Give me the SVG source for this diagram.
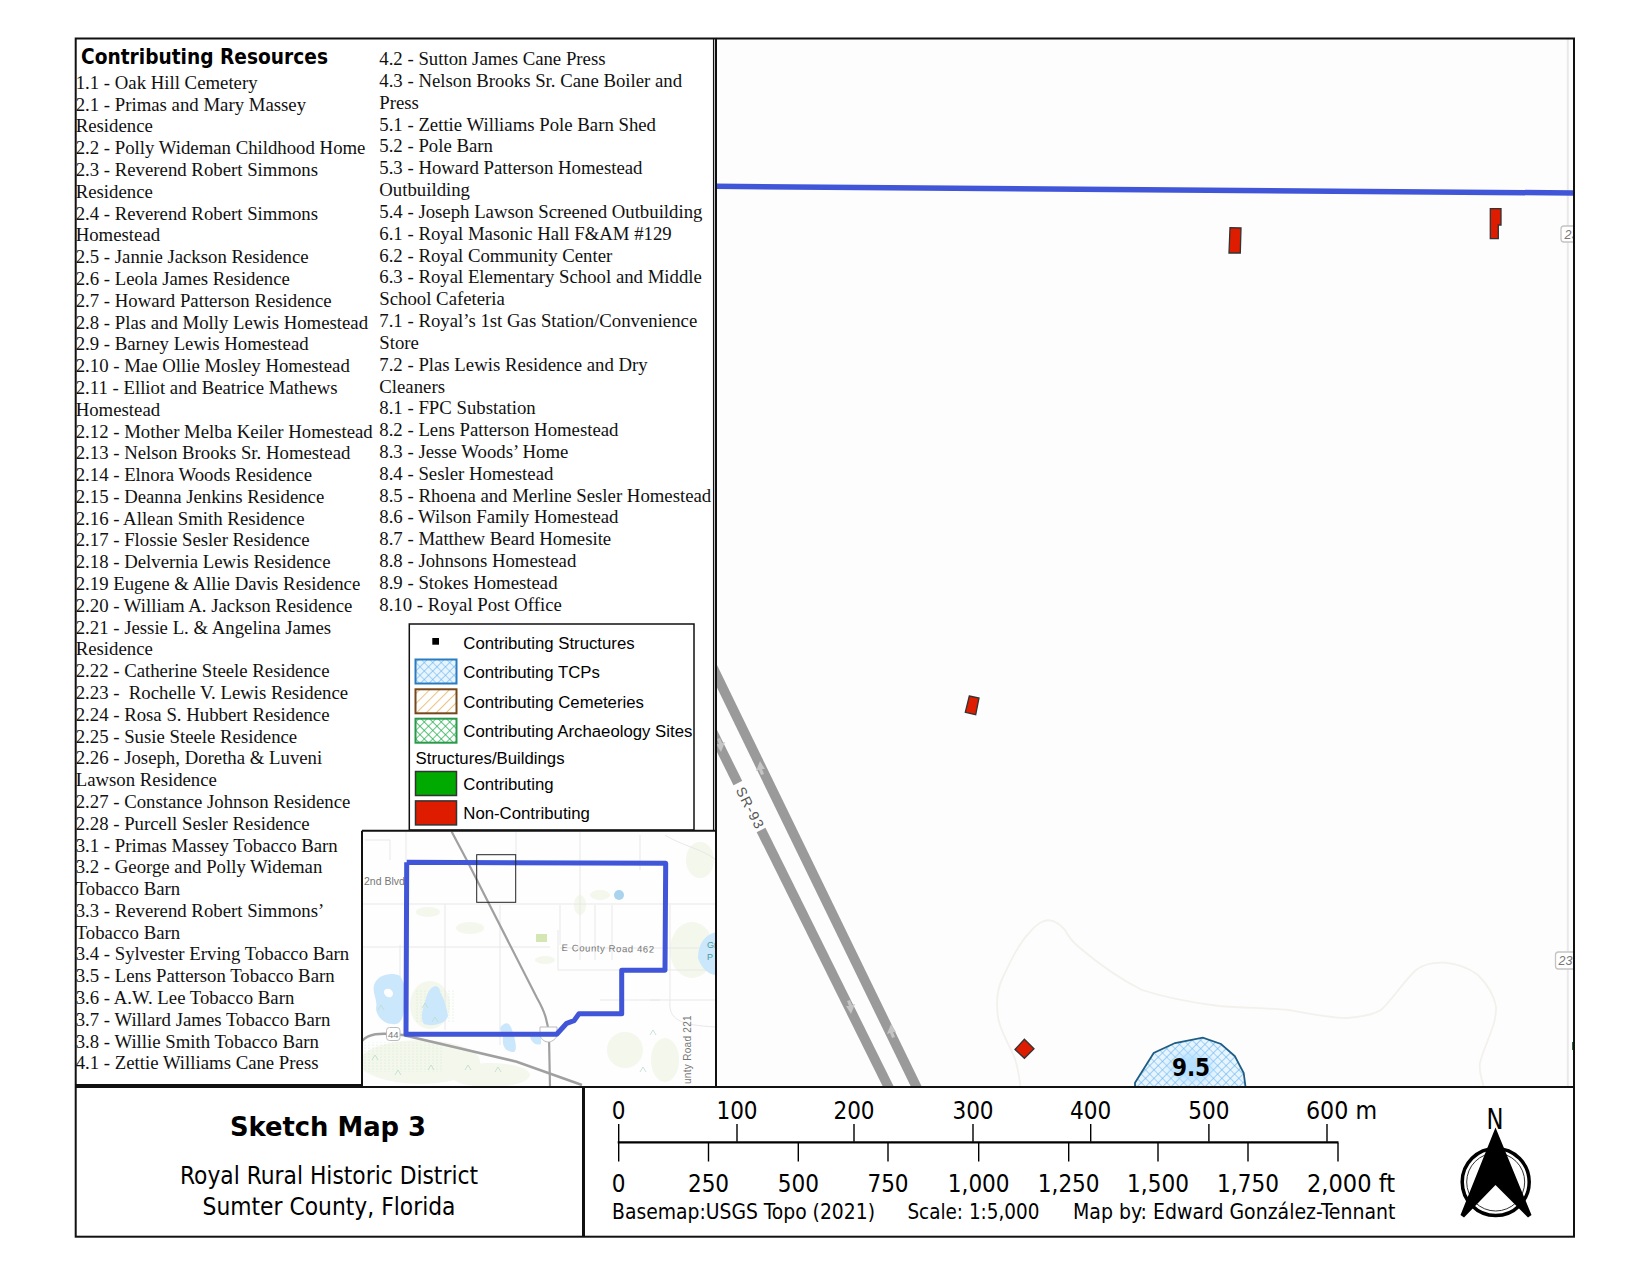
<svg xmlns="http://www.w3.org/2000/svg" width="1650" height="1275" viewBox="0 0 1650 1275">
<style>
.list{font-family:"Liberation Serif","Times New Roman",serif;font-size:18.78px;fill:#111}
.leg{font-family:"Liberation Sans",Arial,sans-serif;font-size:16.75px;fill:#000}
.tah{font-family:"DejaVu Sans Condensed","DejaVu Sans",sans-serif;fill:#000}
.sc{font-size:24px;text-anchor:middle}
.cap{font-size:21px}
.tick{stroke:#000;stroke-width:1.4}
.frame{fill:none;stroke:#111;stroke-width:2}
.bldg{fill:#dd1c00;stroke:#333;stroke-width:1.3}
.lr{fill:none;stroke:#e8e8e8;stroke-width:1}
.wat{fill:#cbe7fb}
.veg{fill:#f3f7ec}
.ink{font-family:"Liberation Sans",Arial,sans-serif;fill:#777}
.marsh{fill:none;stroke:#bcdccb;stroke-width:.8}
</style>
<defs>
<pattern id="hBlue" width="6" height="6" patternUnits="userSpaceOnUse" patternTransform="rotate(45)"><rect width="6" height="6" fill="#e8f5ff"/><path d="M0 0H6M0 0V6" stroke="#5fb0ee" stroke-width="1.200"/></pattern>
<pattern id="hOrange" width="7" height="7" patternUnits="userSpaceOnUse" patternTransform="rotate(-45)"><rect width="7" height="7" fill="#fff"/><path d="M0 0H7" stroke="#e09a28" stroke-width="1.200"/></pattern>
<pattern id="hGreen" width="6" height="6" patternUnits="userSpaceOnUse" patternTransform="rotate(45)"><rect width="6" height="6" fill="#fff"/><path d="M0 0H6M0 0V6" stroke="#18ad45" stroke-width="1.300"/></pattern>
<pattern id="dots" width="4" height="3" patternUnits="userSpaceOnUse"><circle cx="1" cy="1" r=".6" fill="#d3e6d0"/></pattern>
<filter id="blur" x="-40%" y="-40%" width="180%" height="180%"><feGaussianBlur stdDeviation="5"/></filter>
<clipPath id="mapClip"><rect x="716" y="39" width="858" height="1048"/></clipPath>
<clipPath id="insetClip"><rect x="362" y="830" width="354" height="257"/></clipPath>
</defs>
<rect width="1650" height="1275" fill="#fff"/>

<g id="main-map" clip-path="url(#mapClip)">
<rect x="716" y="39" width="858" height="1048" fill="#fdfdfd"/>
<path d="M1567.800 39V1087" stroke="#e9e9e9" stroke-width="2" fill="none"/>
<path d="M1020.500 1087C1019 1075 1017 1065 1014.700 1058C1007 1040 997 1025 997.400 1010C996 995 999 985 1003 977C1012 958 1020 942 1030 932C1038 922 1046 919 1051.400 920.700C1058 922 1062 927 1065 930C1070 940 1075 944 1080 948C1100 965 1122 980 1142 990C1170 999 1195 1003 1219 1006C1245 1008 1268 1008 1289 1010C1310 1014 1330 1018 1347 1018C1362 1017 1374 1014 1381 1010C1392 1000 1404 981 1416 970C1425 963 1435 962 1445 962.700C1458 964 1470 969 1478 975C1488 985 1494 995 1496 1006.700C1497 1025 1484 1045 1480 1063C1479 1070 1481 1078 1484 1087" fill="none" stroke="#f2f1ec" stroke-width="1.800"/>
<g id="sr93">
<path d="M712 666L918 1090" stroke="#9a9a9a" stroke-width="9.800" fill="none"/>
<path d="M712 731L890 1090" stroke="#9a9a9a" stroke-width="9.800" fill="none"/>
<path d="M738 783L761 830" stroke="#fdfdfd" stroke-width="12" fill="none"/>
<text transform="translate(735.500,790) rotate(63)" class="ink" font-size="14" font-weight="400" style="letter-spacing:1.200px;fill:#555">SR-93</text>
<g fill="#c4c4c4">
<path d="M760 761l5 8-3 0 2 5-3 1-2-5-3 1z"/>
<path d="M891 1024l5 8-3 0 2 5-3 1-2-5-3 1z"/>
<path d="M721 752l-5-8 3 0-2-5 3-1 2 5 3-1z"/>
<path d="M851 1014l-5-8 3 0-2-5 3-1 2 5 3-1z"/>
</g>
</g>
<path d="M716 186.300L1574 193" stroke="#4055d8" stroke-width="5.500" fill="none"/>
<g id="shields" fill="#fff" stroke="#c4c4c4" stroke-width="1.300">
<rect x="1561" y="226" width="22" height="16" rx="3"/>
<rect x="1555.500" y="952" width="30" height="17" rx="3"/>
</g>
<g class="ink" font-size="12.500" font-style="italic">
<text x="1564.500" y="238.500">23</text>
<text x="1558.500" y="965">237</text>
</g>
<rect x="1572" y="1042" width="3" height="8" fill="#2f6b3a"/>
<polygon id="tcp-9-5" points="1135,1087.500 1135,1082.700 1153.700,1053 1175,1043 1202.800,1037.700 1221,1044 1234.800,1056 1243.700,1073 1245.600,1087.500" fill="url(#hBlue)" stroke="#1f5d85" stroke-width="1.800"/>
<ellipse cx="1191" cy="1067" rx="21" ry="14" fill="#b5e0ff" filter="url(#blur)"/>
<text class="tah" x="1191" y="1075.500" text-anchor="middle" font-weight="700" font-size="24">9.5</text>
</g>

<g id="buildings">
<polygon class="bldg" points="1230,227.700 1241,228 1240.300,253 1229,253"/>
<polygon class="bldg" points="1490.300,208.700 1501,208.700 1501,225 1498.300,225 1498.300,238.700 1490.300,238.700"/>
<polygon class="bldg" points="969.300,696 979,698 975.700,714.700 965.300,712.300"/>
<polygon class="bldg" points="1024.400,1039.300 1034,1048.800 1024.400,1058.300 1015,1049.500"/>
</g>

<g id="resource-list">
<text class="tah" x="81" y="64" font-weight="700" font-size="21" textLength="247" lengthAdjust="spacingAndGlyphs">Contributing Resources</text>
<text class="list" y="88.900">
<tspan x="75.700">1.1 - Oak Hill Cemetery</tspan>
<tspan x="75.700" dy="21.790">2.1 - Primas and Mary Massey</tspan>
<tspan x="75.700" dy="21.790">Residence</tspan>
<tspan x="75.700" dy="21.790">2.2 - Polly Wideman Childhood Home</tspan>
<tspan x="75.700" dy="21.790">2.3 - Reverend Robert Simmons</tspan>
<tspan x="75.700" dy="21.790">Residence</tspan>
<tspan x="75.700" dy="21.790">2.4 - Reverend Robert Simmons</tspan>
<tspan x="75.700" dy="21.790">Homestead</tspan>
<tspan x="75.700" dy="21.790">2.5 - Jannie Jackson Residence</tspan>
<tspan x="75.700" dy="21.790">2.6 - Leola James Residence</tspan>
<tspan x="75.700" dy="21.790">2.7 - Howard Patterson Residence</tspan>
<tspan x="75.700" dy="21.790">2.8 - Plas and Molly Lewis Homestead</tspan>
<tspan x="75.700" dy="21.790">2.9 - Barney Lewis Homestead</tspan>
<tspan x="75.700" dy="21.790">2.10 - Mae Ollie Mosley Homestead</tspan>
<tspan x="75.700" dy="21.790">2.11 - Elliot and Beatrice Mathews</tspan>
<tspan x="75.700" dy="21.790">Homestead</tspan>
<tspan x="75.700" dy="21.790">2.12 - Mother Melba Keiler Homestead</tspan>
<tspan x="75.700" dy="21.790">2.13 - Nelson Brooks Sr. Homestead</tspan>
<tspan x="75.700" dy="21.790">2.14 - Elnora Woods Residence</tspan>
<tspan x="75.700" dy="21.790">2.15 - Deanna Jenkins Residence</tspan>
<tspan x="75.700" dy="21.790">2.16 - Allean Smith Residence</tspan>
<tspan x="75.700" dy="21.790">2.17 - Flossie Sesler Residence</tspan>
<tspan x="75.700" dy="21.790">2.18 - Delvernia Lewis Residence</tspan>
<tspan x="75.700" dy="21.790">2.19 Eugene &amp; Allie Davis Residence</tspan>
<tspan x="75.700" dy="21.790">2.20 - William A. Jackson Residence</tspan>
<tspan x="75.700" dy="21.790">2.21 - Jessie L. &amp; Angelina James</tspan>
<tspan x="75.700" dy="21.790">Residence</tspan>
<tspan x="75.700" dy="21.790">2.22 - Catherine Steele Residence</tspan>
<tspan x="75.700" dy="21.790" xml:space="preserve">2.23 -  Rochelle V. Lewis Residence</tspan>
<tspan x="75.700" dy="21.790">2.24 - Rosa S. Hubbert Residence</tspan>
<tspan x="75.700" dy="21.790">2.25 - Susie Steele Residence</tspan>
<tspan x="75.700" dy="21.790">2.26 - Joseph, Doretha &amp; Luveni</tspan>
<tspan x="75.700" dy="21.790">Lawson Residence</tspan>
<tspan x="75.700" dy="21.790">2.27 - Constance Johnson Residence</tspan>
<tspan x="75.700" dy="21.790">2.28 - Purcell Sesler Residence</tspan>
<tspan x="75.700" dy="21.790">3.1 - Primas Massey Tobacco Barn</tspan>
<tspan x="75.700" dy="21.790">3.2 - George and Polly Wideman</tspan>
<tspan x="75.700" dy="21.790">Tobacco Barn</tspan>
<tspan x="75.700" dy="21.790">3.3 - Reverend Robert Simmons’</tspan>
<tspan x="75.700" dy="21.790">Tobacco Barn</tspan>
<tspan x="75.700" dy="21.790">3.4 - Sylvester Erving Tobacco Barn</tspan>
<tspan x="75.700" dy="21.790">3.5 - Lens Patterson Tobacco Barn</tspan>
<tspan x="75.700" dy="21.790">3.6 - A.W. Lee Tobacco Barn</tspan>
<tspan x="75.700" dy="21.790">3.7 - Willard James Tobacco Barn</tspan>
<tspan x="75.700" dy="21.790">3.8 - Willie Smith Tobacco Barn</tspan>
<tspan x="75.700" dy="21.790">4.1 - Zettie Williams Cane Press</tspan>
</text>
<text class="list" y="65.200">
<tspan x="379.300">4.2 - Sutton James Cane Press</tspan>
<tspan x="379.300" dy="21.820">4.3 - Nelson Brooks Sr. Cane Boiler and</tspan>
<tspan x="379.300" dy="21.820">Press</tspan>
<tspan x="379.300" dy="21.820">5.1 - Zettie Williams Pole Barn Shed</tspan>
<tspan x="379.300" dy="21.820">5.2 - Pole Barn</tspan>
<tspan x="379.300" dy="21.820">5.3 - Howard Patterson Homestead</tspan>
<tspan x="379.300" dy="21.820">Outbuilding</tspan>
<tspan x="379.300" dy="21.820">5.4 - Joseph Lawson Screened Outbuilding</tspan>
<tspan x="379.300" dy="21.820">6.1 - Royal Masonic Hall F&amp;AM #129</tspan>
<tspan x="379.300" dy="21.820">6.2 - Royal Community Center</tspan>
<tspan x="379.300" dy="21.820">6.3 - Royal Elementary School and Middle</tspan>
<tspan x="379.300" dy="21.820">School Cafeteria</tspan>
<tspan x="379.300" dy="21.820">7.1 - Royal’s 1st Gas Station/Convenience</tspan>
<tspan x="379.300" dy="21.820">Store</tspan>
<tspan x="379.300" dy="21.820">7.2 - Plas Lewis Residence and Dry</tspan>
<tspan x="379.300" dy="21.820">Cleaners</tspan>
<tspan x="379.300" dy="21.820">8.1 - FPC Substation</tspan>
<tspan x="379.300" dy="21.820">8.2 - Lens Patterson Homestead</tspan>
<tspan x="379.300" dy="21.820">8.3 - Jesse Woods’ Home</tspan>
<tspan x="379.300" dy="21.820">8.4 - Sesler Homestead</tspan>
<tspan x="379.300" dy="21.820">8.5 - Rhoena and Merline Sesler Homestead</tspan>
<tspan x="379.300" dy="21.820">8.6 - Wilson Family Homestead</tspan>
<tspan x="379.300" dy="21.820">8.7 - Matthew Beard Homesite</tspan>
<tspan x="379.300" dy="21.820">8.8 - Johnsons Homestead</tspan>
<tspan x="379.300" dy="21.820">8.9 - Stokes Homestead</tspan>
<tspan x="379.300" dy="21.820">8.10 - Royal Post Office</tspan>
</text>
</g>

<g id="legend">
<rect x="409.300" y="624" width="284.700" height="206" fill="#fff" stroke="#111" stroke-width="1.500"/>
<rect x="432.300" y="638" width="6.700" height="6.700" fill="#000"/>
<rect x="415.500" y="659.500" width="41" height="24" fill="url(#hBlue)" stroke="#2a7cc0" stroke-width="2"/>
<rect x="415.500" y="689.300" width="41" height="24" fill="url(#hOrange)" stroke="#75481c" stroke-width="2"/>
<rect x="415.500" y="718.700" width="41" height="24" fill="url(#hGreen)" stroke="#2a9a4a" stroke-width="2"/>
<rect x="415.500" y="771.500" width="41" height="24" fill="#00aa00" stroke="#333" stroke-width="1.500"/>
<rect x="415.500" y="800.900" width="41" height="24" fill="#dd1c00" stroke="#333" stroke-width="1.500"/>
<text class="leg" x="463.300" y="649">Contributing Structures</text>
<text class="leg" x="463.300" y="678">Contributing TCPs</text>
<text class="leg" x="463.300" y="708">Contributing Cemeteries</text>
<text class="leg" x="463.300" y="737">Contributing Archaeology Sites</text>
<text class="leg" x="415.600" y="764">Structures/Buildings</text>
<text class="leg" x="463.300" y="790">Contributing</text>
<text class="leg" x="463.300" y="819">Non-Contributing</text>
</g>

<g id="inset-map" clip-path="url(#insetClip)">
<rect x="362" y="830" width="354" height="257" fill="#fefefe"/>
<g class="veg">
<ellipse cx="428" cy="912" rx="12" ry="5"/><ellipse cx="580" cy="905" rx="6" ry="10"/><ellipse cx="600" cy="895" rx="10" ry="5"/><ellipse cx="700" cy="860" rx="14" ry="18"/><ellipse cx="692" cy="950" rx="22" ry="28"/><ellipse cx="470" cy="928" rx="14" ry="6"/><ellipse cx="545" cy="960" rx="10" ry="4"/><ellipse cx="420" cy="1062" rx="60" ry="22"/><ellipse cx="490" cy="1075" rx="40" ry="12"/><ellipse cx="625" cy="1050" rx="18" ry="18"/><ellipse cx="665" cy="1060" rx="14" ry="22"/><ellipse cx="430" cy="1005" rx="20" ry="24"/>
</g>
<rect x="364" y="1042" width="80" height="30" fill="url(#dots)"/>
<rect x="415" y="990" width="40" height="32" fill="url(#dots)"/>
<rect x="536" y="934" width="11" height="8" fill="#d4e6b4"/>
<g class="lr">
<path d="M362 904H716M362 947H550M560 948H716M558 970H716M365 840H390V860M406 832V860M516 832V860M580 832V875M640 835V870M580 875V960M560 905V945M558 930V970M670 905V1000M595 905V960M612 905V960M650 1000H716M600 1000H660M445 904V1030M500 905V1045M400 945V1000M665 835C680 845 705 850 716 860M670 1000C668 1020 680 1025 716 1027"/>
</g>
<g class="wat">
<path fill-rule="evenodd" d="M374 985C378 974 392 972 400 976C404 982 408 992 405 1002C404 1015 402 1026 392 1024C384 1024 376 1016 376 1008C378 1000 372 994 374 985ZM384 992C384 997 392 1000 393 994C393 988 384 987 384 992Z"/>
<path d="M427 995C432 983 440 985 440 992C445 1000 447 1010 448 1016C446 1024 432 1027 424 1024C419 1018 424 1005 427 995Z"/>
<path d="M500 1028C505 1021 510 1022 512 1030L514 1036C516 1044 517 1050 514 1052C505 1052 502 1046 503 1038Z"/>
<path d="M530 1036H541V1044C535 1046 531 1042 530 1036Z"/>
<ellipse cx="619" cy="895" rx="5" ry="5" fill="#aad4ee"/>
<path d="M716 932C704 935 698 945 698 958C702 970 710 975 716 975Z"/>
</g>
<g class="marsh">
<path d="M372 1060l3-5 3 5M395 1075l3-5 3 5M428 1070l3-5 3 5M465 1070l3-5 3 5M495 1072l3-5 3 5M650 1035l3-5 3 5M640 1072l3-5 3 5M422 1008l3-5 3 5M432 1022l3-5 3 5M378 1010l3-5 3 5"/>
</g>
<path d="M451.700 831.700L466.700 860L537 998C545 1012 548 1022 549 1036.700L550 1087" fill="none" stroke="#a0a0a0" stroke-width="2.200"/>
<path d="M362 1041C368 1034 378 1032 403 1035L516.700 1061.700L582 1085" fill="none" stroke="#a0a0a0" stroke-width="2.500"/>
<g id="inset-labels">
<text class="ink" x="364" y="885" font-size="10.500">2nd Blvd</text>
<text class="ink" transform="translate(561.500,951) rotate(1)" font-size="9.500" style="letter-spacing:.6px">E County Road 462</text>
<text class="ink" transform="translate(691,1084) rotate(-90)" font-size="10" style="letter-spacing:.3px">unty Road 221</text>
<text x="707" y="948" font-family="Liberation Sans, sans-serif" font-size="9" fill="#4a9a9a">Gr</text>
<text x="707" y="960" font-family="Liberation Sans, sans-serif" font-size="9" fill="#4a9a9a">P</text>
<rect x="386.500" y="1027.500" width="13.500" height="13" rx="3" fill="#fff" stroke="#bbb"/>
<text class="ink" x="393.200" y="1038" font-size="9.500" text-anchor="middle">44</text>
<path d="M540 1027H557V1036C555 1040 551 1042 548.500 1042C545 1042 542 1040 540 1036Z" fill="#fff" stroke="#bbb"/>
</g>
<polyline id="district-boundary" points="406.700,862.300 665.700,863.300 665,970.300 621.700,970.300 621.700,1013.700 579,1013.700 574,1020.700 566.700,1023.300 556.700,1034.300 406,1034.300 406.700,862.300" fill="none" stroke="#4055d8" stroke-width="5" stroke-linejoin="round"/>
<rect id="extent" x="476.700" y="854.700" width="39" height="47.600" fill="none" stroke="#222" stroke-width="1"/>
</g>

<g id="frames">
<rect class="frame" x="75.700" y="38.500" width="1498.300" height="1198.200"/>
<path class="frame" d="M75.700 1085H362M716 38.500V1087M362 830.700H716V1087M362 830.700V1087M75.700 1087H1574"/>
<path d="M713.600 38.500V830" stroke="#111" stroke-width="1.300" fill="none"/>
<path d="M583.500 1087V1236.700" stroke="#111" stroke-width="3" fill="none"/>
</g>

<g id="title-block">
<text class="tah" x="328" y="1136" text-anchor="middle" font-weight="700" font-size="27" textLength="196" lengthAdjust="spacingAndGlyphs">Sketch Map 3</text>
<text class="tah" x="329" y="1184" text-anchor="middle" font-size="24" textLength="298" lengthAdjust="spacingAndGlyphs">Royal Rural Historic District</text>
<text class="tah" x="329" y="1214.500" text-anchor="middle" font-size="24" textLength="253" lengthAdjust="spacingAndGlyphs">Sumter County, Florida</text>
</g>

<g id="scale-bar">
<path d="M617.700 1142.400H1338.500" stroke="#000" stroke-width="2.200"/>
<path class="tick" d="M618.700 1124V1161.400M737 1124V1141.700M854 1124V1141.700M973 1124V1141.700M1090.700 1124V1141.700M1208.900 1124V1141.700M1327 1124V1141.700M708.500 1142.700V1161.400M798.300 1142.700V1161.400M888 1142.700V1161.400M978.700 1142.700V1161.400M1068.700 1142.700V1161.400M1158 1142.700V1161.400M1248 1142.700V1161.400M1338 1142.700V1161.400"/>
<g class="tah sc">
<text x="618.700" y="1119">0</text><text x="737" y="1119">100</text><text x="854" y="1119">200</text><text x="973" y="1119">300</text><text x="1090.700" y="1119">400</text><text x="1208.900" y="1119">500</text>
<text x="1306" y="1119" style="text-anchor:start" textLength="71" lengthAdjust="spacingAndGlyphs">600 m</text>
<text x="618.700" y="1191.800">0</text><text x="708.500" y="1191.800">250</text><text x="798.300" y="1191.800">500</text><text x="888" y="1191.800">750</text><text x="978.700" y="1191.800">1,000</text><text x="1068.700" y="1191.800">1,250</text><text x="1158" y="1191.800">1,500</text><text x="1248" y="1191.800">1,750</text>
<text x="1307" y="1191.800" style="text-anchor:start" textLength="88" lengthAdjust="spacingAndGlyphs">2,000 ft</text>
</g>
<g class="tah cap">
<text x="612" y="1218.800" textLength="263" lengthAdjust="spacingAndGlyphs">Basemap:USGS Topo (2021)</text>
<text x="907.400" y="1218.800" textLength="132" lengthAdjust="spacingAndGlyphs">Scale: 1:5,000</text>
<text x="1073" y="1218.800" textLength="322.500" lengthAdjust="spacingAndGlyphs">Map by: Edward González-Tennant</text>
</g>
</g>

<g id="north-arrow">
<text class="tah" x="1495" y="1128.500" text-anchor="middle" font-size="28" textLength="17" lengthAdjust="spacingAndGlyphs">N</text>
<circle cx="1495.700" cy="1182" r="33.500" fill="#fff" stroke="#000" stroke-width="3.500"/>
<circle cx="1495.700" cy="1182" r="29" fill="none" stroke="#333" stroke-width="1"/>
<polygon points="1495.500,1127.500 1531.500,1215 1528,1217.500 1495.500,1185 1464,1217.500 1460.500,1215" fill="#000"/>
</g>
</svg>
